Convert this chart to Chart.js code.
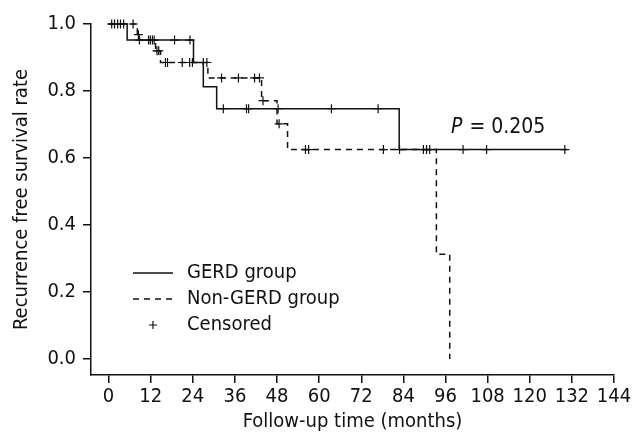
<!DOCTYPE html>
<html>
<head>
<meta charset="utf-8">
<script src="https://cdn.jsdelivr.net/npm/chart.js@4/dist/chart.umd.min.js"></script>
<style>
  html, body { margin: 0; padding: 0; background: #fff; }
  #wrap { width: 634px; height: 432px; }
</style>
</head>
<body>
<div id="wrap"><canvas id="km"></canvas></div>
<script>
// tick labels
const xTicks = [0, 12, 24, 36, 48, 60, 72, 84, 96, 108, 120, 132, 144];
const yTicks = [0, 0.2, 0.4, 0.6, 0.8, 1.0];

// GERD group: event times (months) and survival after each step
const gerdTime = [0, 5.3, 24.2, 27.0, 30.8, 82.8, 130.5];
const gerdSurv = [1.0, 0.952, 0.885, 0.813, 0.747, 0.625, 0.625];

// Non-GERD group
const nonTime = [0, 8.2, 8.8, 13.4, 14.8, 28.3, 43.6, 48.0, 51.0, 93.4, 97.2];
const nonSurv = [1.0, 0.968, 0.952, 0.92, 0.885, 0.839, 0.771, 0.702, 0.625, 0.3125, 0.0];

// censored observations
const gerdCensT = [0.9, 2.6, 4.3, 8.8, 11.4, 12.5, 18.8, 23.2, 32.7, 39.3, 39.9, 48.3, 63.5, 76.8, 101, 107.7, 130];
const gerdCensS = [1.0, 1.0, 1.0, 0.952, 0.952, 0.952, 0.952, 0.952, 0.747, 0.747, 0.747, 0.747, 0.747, 0.747, 0.625, 0.625, 0.625];
const nonCensT = [1.7, 3.4, 7.0, 8.5, 11.9, 13.0, 13.8, 14.3, 16.2, 16.8, 21.0, 23.1, 23.9, 27.0, 28.0, 32.2, 37.0, 41.6, 43.0, 44.0, 48.6, 56.1, 57.0, 78.3, 82.9, 89.7, 90.6, 91.5];
const nonCensS = [1.0, 1.0, 1.0, 0.968, 0.952, 0.952, 0.92, 0.92, 0.885, 0.885, 0.885, 0.885, 0.885, 0.885, 0.885, 0.839, 0.839, 0.839, 0.839, 0.771, 0.702, 0.625, 0.625, 0.625, 0.625, 0.625, 0.625, 0.625];

const pts = (t, s) => t.map((v, i) => ({x: v, y: s[i]}));

const FONT = "'Liberation Sans Narrow', 'DejaVu Sans Condensed', 'Liberation Sans', Arial, sans-serif";
Chart.defaults.font.family = FONT;
Chart.defaults.font.size = 20;
Chart.defaults.color = '#111';

// legend + p value drawn inside the plot
const annot = {
  id: 'annot',
  afterDraw(chart) {
    const ctx = chart.ctx;
    ctx.save();
    ctx.strokeStyle = '#111';
    ctx.fillStyle = '#111';
    ctx.lineWidth = 1.4;
    ctx.font = '20px ' + FONT;
    ctx.textBaseline = 'middle';
    // solid
    ctx.beginPath(); ctx.moveTo(133, 273); ctx.lineTo(173, 273); ctx.stroke();
    ctx.fillText('GERD group', 187, 273);
    // dashed
    ctx.setLineDash([6, 5]);
    ctx.beginPath(); ctx.moveTo(133, 299); ctx.lineTo(176, 299); ctx.stroke();
    ctx.setLineDash([]);
    ctx.fillText('Non-GERD group', 187, 299);
    // censor
    ctx.lineWidth = 1.2;
    ctx.beginPath();
    ctx.moveTo(149, 325); ctx.lineTo(157, 325);
    ctx.moveTo(153, 321); ctx.lineTo(153, 329);
    ctx.stroke();
    ctx.fillText('Censored', 187, 325);
    // p value
    ctx.font = 'italic 21px ' + FONT;
    ctx.fillText('P', 451, 128);
    const pw = ctx.measureText('P').width;
    ctx.font = '21px ' + FONT;
    ctx.fillText(' = 0.205', 451 + pw + 1, 128);
    ctx.restore();
  }
};

new Chart(document.getElementById('km'), {
  type: 'scatter',
  data: {
    datasets: [
      {
        label: 'GERD group',
        data: pts(gerdTime, gerdSurv),
        showLine: true, stepped: true,
        borderColor: '#111', borderWidth: 1.5,
        pointRadius: 0, clip: false
      },
      {
        label: 'Non-GERD group',
        data: pts(nonTime, nonSurv),
        showLine: true, stepped: true,
        borderColor: '#111', borderWidth: 1.5, borderDash: [6, 5],
        pointRadius: 0, clip: false
      },
      {
        label: 'Censored',
        data: pts(gerdCensT, gerdCensS).concat(pts(nonCensT, nonCensS)),
        showLine: false,
        pointStyle: 'cross', pointRadius: 4.5,
        borderColor: '#111', borderWidth: 1.2, clip: false
      }
    ]
  },
  options: {
    responsive: true,
    maintainAspectRatio: false,
    animation: false,
    layout: {padding: {top: 24, right: 20, left: 0, bottom: 0}},
    plugins: {legend: {display: false}, tooltip: {enabled: false}},
    scales: {
      x: {
        type: 'linear', min: -5, max: 144,
        afterBuildTicks: a => { a.ticks = xTicks.map(v => ({value: v})); },
        afterFit: s => { s.height = 57; },
        grid: {drawOnChartArea: false, drawTicks: true, tickLength: 8, color: '#111', lineWidth: 1.5},
        border: {display: true, color: '#111', width: 1.5},
        ticks: {padding: 2, maxRotation: 0},
        title: {display: true, text: 'Follow-up time (months)', padding: {top: 0, bottom: 0}, font: {size: 20, lineHeight: 1}}
      },
      y: {
        type: 'linear', min: -0.048, max: 1.0,
        afterBuildTicks: a => { a.ticks = yTicks.map(v => ({value: v})); },
        afterFit: s => { s.width = 91; },
        grid: {drawOnChartArea: false, drawTicks: true, tickLength: 8, color: '#111', lineWidth: 1.5},
        border: {display: true, color: '#111', width: 1.5},
        ticks: {padding: 7, callback: v => v.toFixed(1)},
        title: {display: true, text: 'Recurrence free survival rate', padding: {top: 12, bottom: 0}, font: {size: 20, lineHeight: 1}}
      }
    }
  },
  plugins: [annot]
});
</script>
</body>
</html>
